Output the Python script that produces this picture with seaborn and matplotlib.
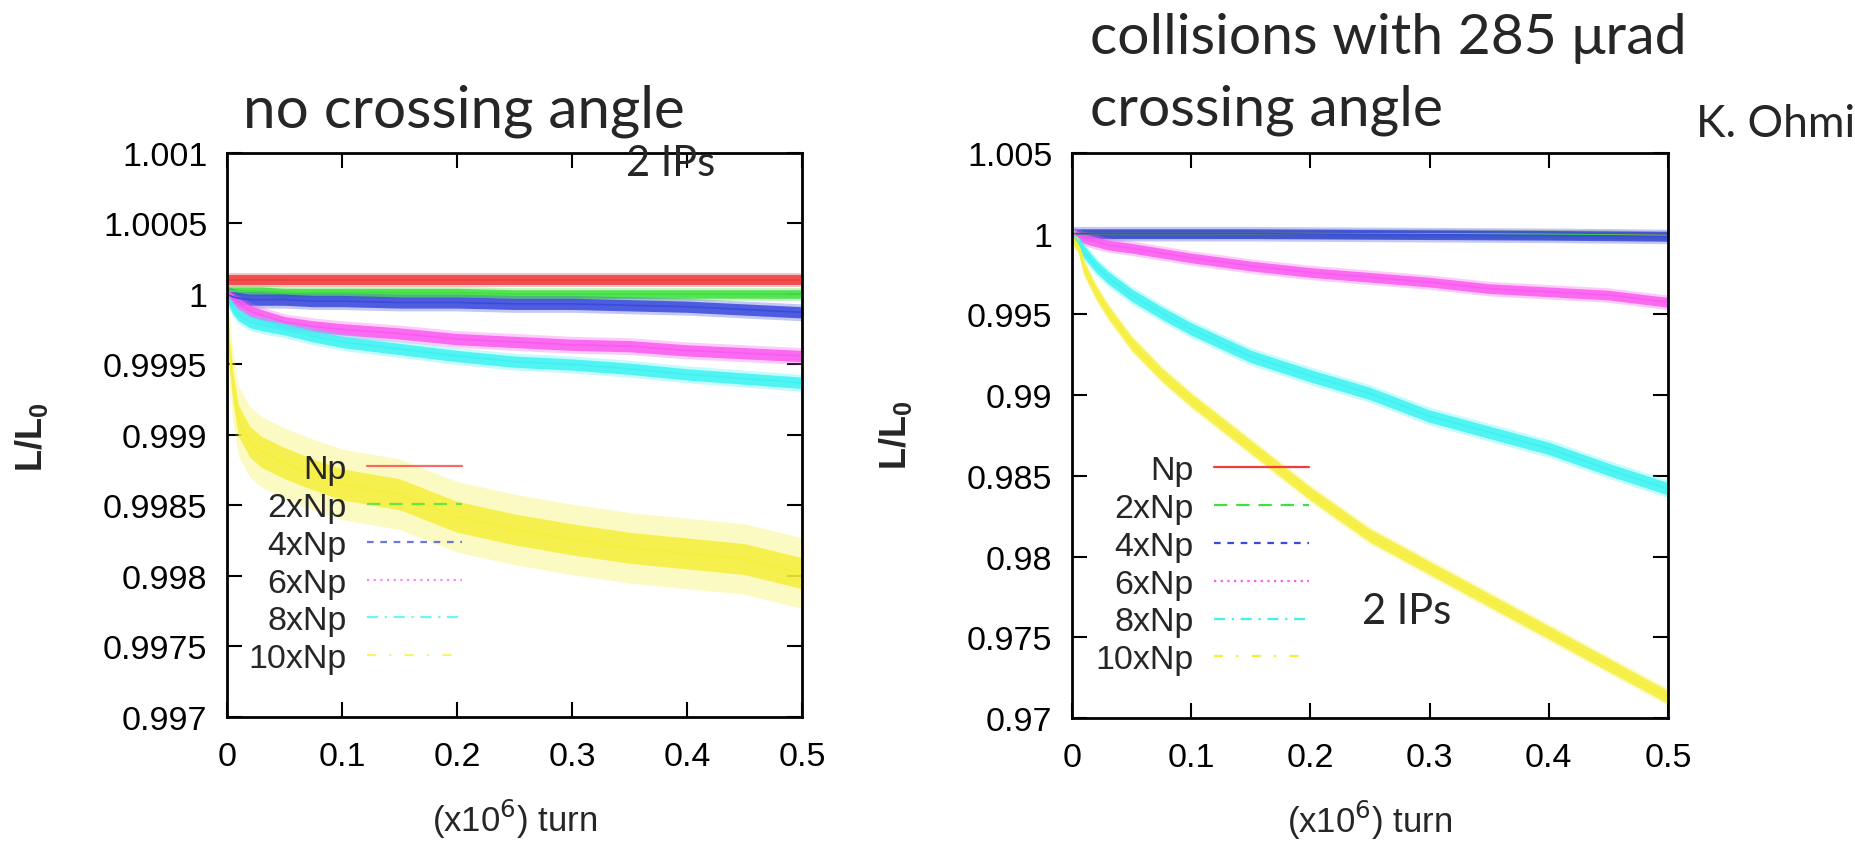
import matplotlib
matplotlib.use('Agg')
import matplotlib.pyplot as plt
from matplotlib.lines import Line2D
import numpy as np
import pandas as pd
import seaborn as sns

# values (x in 1e6 turns, y = L/L0)
turns = [0, 0.002, 0.005, 0.01, 0.02, 0.03, 0.05, 0.075, 0.1, 0.15, 0.2, 0.25, 0.3, 0.35, 0.4, 0.45, 0.5]

left_np    = [1.0001, 1.0001, 1.0001, 1.0001, 1.0001, 1.0001, 1.0001, 1.0001, 1.0001, 1.0001, 1.0001, 1.0001, 1.0001, 1.0001, 1.0001, 1.0001, 1.0001]
left_2np   = [1.00002, 1.00002, 1.00002, 1.00002, 1.00002, 1.00002, 1.00001, 1.00001, 1.00001, 1.00001, 1.00001, 1.0, 1.0, 1.0, 1.0, 1.0, 1.0]
left_4np   = [1.0, 0.99999, 0.99998, 0.99997, 0.99996, 0.99996, 0.99996, 0.99995, 0.99995, 0.99994, 0.99994, 0.99993, 0.99993, 0.99992, 0.99991, 0.99989, 0.99987]
left_6np   = [1.0, 0.99998, 0.99996, 0.99993, 0.99988, 0.99985, 0.9998, 0.99977, 0.99975, 0.99972, 0.99968, 0.99966, 0.99964, 0.99963, 0.9996, 0.99958, 0.99956]
left_8np   = [1.0, 0.99995, 0.9999, 0.99985, 0.9998, 0.99978, 0.99975, 0.9997, 0.99966, 0.99961, 0.99956, 0.99952, 0.9995, 0.99947, 0.99943, 0.9994, 0.99937]
left_10np  = [1.0, 0.9996, 0.99935, 0.9991, 0.99895, 0.99888, 0.9988, 0.99872, 0.99865, 0.99858, 0.99842, 0.99833, 0.99826, 0.9982, 0.99816, 0.99812, 0.99802]

right_np   = [1.0, 1.0, 1.0, 1.0, 1.0, 1.0, 1.0, 1.0, 1.0, 1.0, 1.0, 0.99999, 0.99998, 0.99997, 0.99995, 0.99992, 0.99988]
right_2np  = [1.0, 1.0, 1.0, 1.0, 1.0, 1.0, 1.0, 1.0, 1.0, 1.0, 1.0, 0.99999, 0.99998, 0.99997, 0.99995, 0.99992, 0.99988]
right_4np  = [1.0, 1.0, 1.0, 1.0, 1.0, 1.0, 1.0, 1.0, 1.0, 1.0, 0.99998, 0.99996, 0.99994, 0.99992, 0.9999, 0.99987, 0.99983]
right_6np  = [1.0, 0.99995, 0.99985, 0.9997, 0.9995, 0.9993, 0.9991, 0.9988, 0.9985, 0.998, 0.9976, 0.9973, 0.997, 0.9966, 0.9964, 0.9962, 0.99575]
right_8np  = [1.0, 0.9998, 0.9995, 0.9989, 0.998, 0.9973, 0.9962, 0.9951, 0.9941, 0.9924, 0.9912, 0.9901, 0.9887, 0.9877, 0.9867, 0.9854, 0.9842]
right_10np = [1.0, 0.9996, 0.9993, 0.9979, 0.9964, 0.9952, 0.9932, 0.9913, 0.9897, 0.9868, 0.9839, 0.9813, 0.9793, 0.9773, 0.9753, 0.9733, 0.9713]

labels = ['Np', '2xNp', '4xNp', '6xNp', '8xNp', '10xNp']
colors = ['#f03c3c', '#3fe03f', '#3a4bdc', '#fa5af0', '#3ef2f2', '#f6ef3a']
styles = ['-', (0, (6, 4)), (0, (3, 3)), (0, (1, 2)), (0, (5, 3, 1, 3)), (0, (4, 6, 1, 6))]

# noise band half widths (inner dense band, outer spikes)
left_band  = [(0.000035, 0.00005), (0.00003, 0.000045), (0.00004, 0.00006), (0.00004, 0.00006), (0.00004, 0.00006), (0.00011, 0.00025)]
right_band = [(0.0002, 0.0003), (0.0002, 0.0003), (0.0003, 0.00045), (0.0003, 0.00045), (0.00038, 0.00055), (0.0004, 0.00055)]

xticks = [0, 0.1, 0.2, 0.3, 0.4, 0.5]
xtick_labels = ['0', '0.1', '0.2', '0.3', '0.4', '0.5']
left_yticks = [0.997, 0.9975, 0.998, 0.9985, 0.999, 0.9995, 1.0, 1.0005, 1.001]
left_ytick_labels = ['0.997', '0.9975', '0.998', '0.9985', '0.999', '0.9995', '1', '1.0005', '1.001']
right_yticks = [0.97, 0.975, 0.98, 0.985, 0.99, 0.995, 1.0, 1.005]
right_ytick_labels = ['0.97', '0.975', '0.98', '0.985', '0.99', '0.995', '1', '1.005']

sns.set_style('ticks')
title_font = ['Lato', 'DejaVu Sans']
plt.rcParams['font.family'] = ['Liberation Sans', 'DejaVu Sans']

fig = plt.figure(figsize=(18.56, 8.45), dpi=100)
ax_l = fig.add_axes([227 / 1856, 1 - 718 / 845, 575 / 1856, 564 / 845])
ax_r = fig.add_axes([1072 / 1856, 1 - 719 / 845, 596 / 1856, 565 / 845])


def draw_panel(ax, series, bands, yticks, yticklabels, legend_anchor, legend_alpha):
    for vals, col, (inner, outer) in zip(series, colors, bands):
        df = pd.DataFrame({'turn': turns, 'lum': vals})
        y = np.array(vals)
        ax.fill_between(turns, y - outer, y + outer, color=col, alpha=0.3, lw=0)
        ax.fill_between(turns, y - inner, y + inner, color=col, alpha=0.85, lw=0)
        sns.lineplot(data=df, x='turn', y='lum', ax=ax, color=col, linewidth=1.2)

    ax.set_xlim(0, 0.5)
    ax.set_ylim(yticks[0], yticks[-1])
    ax.set_xticks(xticks)
    ax.set_xticklabels(xtick_labels)
    ax.set_yticks(yticks)
    ax.set_yticklabels(yticklabels)
    ax.tick_params(direction='in', length=11, width=1.5, top=True, right=True,
                   labelsize=24.5, colors='black')
    ax.tick_params(axis='y', pad=14)
    ax.tick_params(axis='x', pad=17)
    for sp in ax.spines.values():
        sp.set_linewidth(2)
        sp.set_color('black')
    ax.set_ylabel('')
    ax.set_xlabel('(x10$^6$) turn', fontsize=25, labelpad=18)

    handles = [Line2D([0], [0], color=c, ls=s, lw=1.6, alpha=legend_alpha)
               for c, s in zip(colors, styles)]
    ax.legend(handles, labels, loc='upper right', bbox_to_anchor=legend_anchor,
              markerfirst=False, frameon=False, fontsize=24.5, borderpad=0,
              borderaxespad=0, handlelength=2.8, handletextpad=0.6,
              labelspacing=0.2)


draw_panel(ax_l, [left_np, left_2np, left_4np, left_6np, left_8np, left_10np],
           left_band, left_yticks, left_ytick_labels, (0.409, 0.466), 0.75)
draw_panel(ax_r, [right_np, right_2np, right_4np, right_6np, right_8np, right_10np],
           right_band, right_yticks, right_ytick_labels, (0.398, 0.465), 1.0)

for xc, yc in [(32, 437), (896, 435)]:
    fig.text(xc / 1856, 1 - yc / 845, 'L/L$_\\mathregular{0}$', rotation=90, ha='center',
             va='center', fontsize=26, fontweight='bold')

fig.text(243 / 1856, 1 - 128 / 845, 'no crossing angle', fontsize=42,
         family=title_font, va='baseline', ha='left')
fig.text(1090 / 1856, 1 - 54 / 845, 'collisions with 285 \u03bcrad', fontsize=41,
         family=title_font, va='baseline', ha='left')
fig.text(1090 / 1856, 1 - 126 / 845, 'crossing angle', fontsize=41,
         family=title_font, va='baseline', ha='left')
fig.text(1696 / 1856, 1 - 137 / 845, 'K. Ohmi', fontsize=32,
         family=title_font, va='baseline', ha='left')
fig.text(626 / 1856, 1 - 176 / 845, '2 IPs', fontsize=30,
         family=title_font, va='baseline', ha='left')
fig.text(1362 / 1856, 1 - 624 / 845, '2 IPs', fontsize=30,
         family=title_font, va='baseline', ha='left')

fig.savefig('out.png', dpi=100, facecolor='white')
